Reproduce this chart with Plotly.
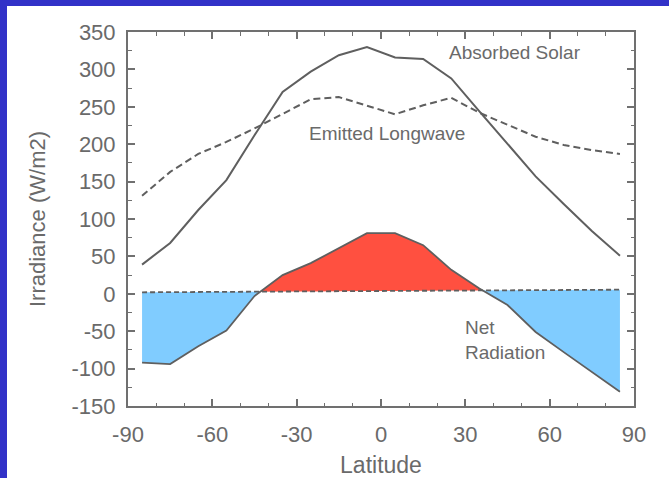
import numpy as np
import plotly.graph_objects as go

# ---------------- data ----------------
LATITUDE = [-85, -75, -65, -55, -45, -35, -25, -15, -5, 5, 15, 25, 35, 45, 55, 65, 75, 85]
ABSORBED_SOLAR = [39, 68, 112, 152, 212, 270, 297, 319, 330, 316, 314, 288, 244, 201, 157, 120, 84, 51]
EMITTED_LONGWAVE = [131, 163, 187, 203, 221, 241, 260, 263, 251, 240, 252, 262, 242, 226, 210, 199, 192, 187]
NET_RADIATION = [-92, -94, -70, -49, -3, 25, 41, 61, 81, 81, 65, 32, 7, -15, -51, -78, -104, -131]
ZERO_LAT = [-85, 85]
ZERO_LINE = [2, 5.5]

X_TICKS = [-90, -60, -30, 0, 30, 60, 90]
X_TICKTEXT = ["-90", "-60", "-30", "0", "30", "60", "90"]
Y_TICKS = [-150, -100, -50, 0, 50, 100, 150, 200, 250, 300, 350]
Y_TICKTEXT = ["-150", "-100", "-50", "0", "50", "100", "150", "200", "250", "300", "350"]

# ---------------- styles ----------------
LINE = "#5f5f5f"
AXIS = "#707070"
TEXT = "#6a6a6a"
RED = "#FF5040"
BLUE = "#80CCFF"
FRAME = "#3232C8"
FONT = "Liberation Sans, Arial, sans-serif"

W, H = 669, 478
ML, MR, MT, MB = 128, 35, 32, 72

fig = go.Figure()

# --- fills between net radiation and the zero reference line ---
lat = np.array(LATITUDE, float)
net = np.array(NET_RADIATION, float)
zero = np.interp(lat, ZERO_LAT, ZERO_LINE)
d = net - zero
segments = []
cx, cy, sign = [lat[0]], [net[0]], d[0] > 0
for i in range(1, len(lat)):
    s = d[i] > 0
    if s != sign:
        t = d[i - 1] / (d[i - 1] - d[i])
        xc = lat[i - 1] + t * (lat[i] - lat[i - 1])
        yc = net[i - 1] + t * (net[i] - net[i - 1])
        cx.append(xc); cy.append(yc)
        segments.append((sign, cx, cy))
        cx, cy, sign = [xc], [yc], s
    cx.append(lat[i]); cy.append(net[i])
segments.append((sign, cx, cy))

for positive, xs, ys in segments:
    zs = np.interp(xs, ZERO_LAT, ZERO_LINE)
    px = list(xs) + list(xs[::-1])
    py = list(ys) + list(zs[::-1])
    fig.add_trace(go.Scatter(x=px, y=py, fill="toself", mode="none",
                             fillcolor=RED if positive else BLUE,
                             hoverinfo="skip", showlegend=False))

fig.add_trace(go.Scatter(x=ZERO_LAT, y=ZERO_LINE, mode="lines",
                         line=dict(color=LINE, width=1.8, dash="5px,3px"),
                         showlegend=False))
fig.add_trace(go.Scatter(x=LATITUDE, y=NET_RADIATION, mode="lines",
                         line=dict(color=LINE, width=1.8), showlegend=False))
fig.add_trace(go.Scatter(x=LATITUDE, y=EMITTED_LONGWAVE, mode="lines",
                         line=dict(color=LINE, width=2, dash="7px,4px"),
                         showlegend=False))
fig.add_trace(go.Scatter(x=LATITUDE, y=ABSORBED_SOLAR, mode="lines",
                         line=dict(color=LINE, width=2), showlegend=False))

ann_font = dict(family=FONT, size=19, color=TEXT)
fig.add_annotation(x=47.7, y=323, text="Absorbed Solar", showarrow=False,
                   xanchor="center", yanchor="middle", font=ann_font)
fig.add_annotation(x=2, y=214, text="Emitted Longwave", showarrow=False,
                   xanchor="center", yanchor="middle", font=ann_font)
fig.add_annotation(x=29.3, y=-62, text="Net<br>Radiation", showarrow=False,
                   xanchor="left", yanchor="middle", align="left", font=ann_font)

# blue frame strips (top and left), paper coordinates
pw, ph = W - ML - MR, H - MT - MB
left_edge = (7 - ML) / pw
top_edge = (H - MB - 6) / ph
fig.add_shape(type="rect", xref="paper", yref="paper", x0=-1, x1=left_edge,
              y0=-1, y1=2, fillcolor=FRAME, line=dict(width=0), layer="below")
fig.add_shape(type="rect", xref="paper", yref="paper", x0=-1, x1=2,
              y0=top_edge, y1=2, fillcolor=FRAME, line=dict(width=0), layer="below")

axis_common = dict(showline=True, linewidth=2, linecolor=AXIS, mirror="ticks",
                   ticks="inside", ticklen=7, tickwidth=1.5, tickcolor=AXIS,
                   showgrid=False, zeroline=False,
                   tickfont=dict(family=FONT, size=22, color=TEXT))

fig.update_xaxes(range=[-90, 90], tickmode="array", tickvals=X_TICKS, ticktext=X_TICKTEXT,
                 minor=dict(dtick=10, tick0=-90, ticks="inside", ticklen=3.5,
                            tickwidth=1.2, tickcolor=AXIS, showgrid=False),
                 ticklabelstandoff=8,
                 title=dict(text="Latitude", font=dict(family=FONT, size=23, color=TEXT),
                            standoff=12),
                 **axis_common)
fig.update_yaxes(range=[-150, 350], tickmode="array", tickvals=Y_TICKS, ticktext=Y_TICKTEXT,
                 minor=dict(dtick=25, tick0=-150, ticks="inside", ticklen=3.5,
                            tickwidth=1.2, tickcolor=AXIS, showgrid=False),
                 ticklabelstandoff=6,
                 title=dict(text="Irradiance (W/m2)", font=dict(family=FONT, size=22, color=TEXT),
                            standoff=20),
                 **axis_common)

fig.update_layout(width=W, height=H, margin=dict(l=ML, r=MR, t=MT, b=MB, autoexpand=False),
                  paper_bgcolor="white", plot_bgcolor="white", showlegend=False)

fig.write_html("out.html",
               config={"displayModeBar": False},
               post_script="document.body.style.margin='0px';"
                           "document.body.style.overflow='hidden';")
